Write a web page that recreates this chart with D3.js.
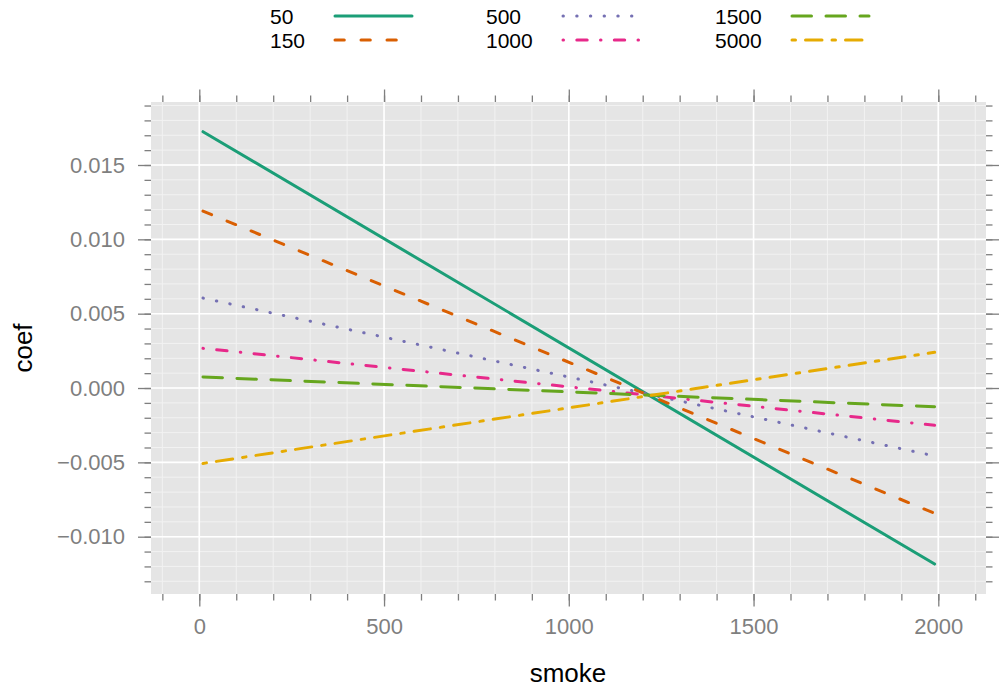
<!DOCTYPE html>
<html>
<head>
<meta charset="utf-8">
<script src="https://cdn.jsdelivr.net/npm/d3@7"></script>
<style>
  body { margin: 0; background: #fff; }
  svg { display: block; font-family: "Liberation Sans", Arial, sans-serif; }
</style>
</head>
<body>
<div id="chart"></div>
<script>
// data: each series is a straight line over smoke
var smokeRange = [10, 1990];
var seriesNames = ["50", "150", "500", "1000", "1500", "5000"];
var coefAtStart = [0.01724, 0.01190, 0.00605, 0.00267, 0.00074, -0.00507];
var coefAtEnd = [-0.01184, -0.00843, -0.00457, -0.00251, -0.00126, 0.00240];
var seriesColors = ["#1B9E77", "#D95F02", "#7570B3", "#E7298A", "#66A61E", "#E6AB02"];
var seriesDash = ["none", "9.3,16.7", "0.4,13.3", "0.5,13.3,10.4,13.3", "19.5,14.5", "3.5,10,16.5,10"];
var xTicks = [0, 500, 1000, 1500, 2000];
var yTicks = [-0.010, -0.005, 0.000, 0.005, 0.010, 0.015];

function init() {
    var w = 999, h = 687;
    var panel = { left: 151, right: 986, top: 102, bottom: 594 };

    var svg = d3.select("#chart").append("svg")
        .attr("width", w)
        .attr("height", h);

    // scales
    var x = d3.scaleLinear().domain([0, 2000]).range([199.3, 938.3]);
    var y = d3.scaleLinear().domain([-0.010, 0.015]).range([536.7, 165.0]);

    var xMinor = d3.range(-100, 2101, 100);
    var yMinor = d3.range(-13, 20).map(function(d) { return d / 1000; });

    // panel background
    svg.append("rect")
        .attr("x", panel.left).attr("y", panel.top)
        .attr("width", panel.right - panel.left)
        .attr("height", panel.bottom - panel.top)
        .attr("fill", "#E5E5E5");

    // grid lines, minor then major
    var grid = svg.append("g");
    grid.selectAll("line.xmin").data(xMinor).enter().append("line")
        .attr("x1", x).attr("x2", x)
        .attr("y1", panel.top).attr("y2", panel.bottom)
        .attr("stroke", "#F2F2F2").attr("stroke-width", 1);
    grid.selectAll("line.ymin").data(yMinor).enter().append("line")
        .attr("y1", y).attr("y2", y)
        .attr("x1", panel.left).attr("x2", panel.right)
        .attr("stroke", "#F2F2F2").attr("stroke-width", 1);
    grid.selectAll("line.xmaj").data(xTicks).enter().append("line")
        .attr("x1", x).attr("x2", x)
        .attr("y1", panel.top).attr("y2", panel.bottom)
        .attr("stroke", "#fff").attr("stroke-width", 1.6);
    grid.selectAll("line.ymaj").data(yTicks).enter().append("line")
        .attr("y1", y).attr("y2", y)
        .attr("x1", panel.left).attr("x2", panel.right)
        .attr("stroke", "#fff").attr("stroke-width", 1.6);

    // axes on all four sides (major ticks with labels on bottom/left)
    var fmtY = d3.format(".3f");
    var tickFont = "22px";

    function styleAxis(g) {
        g.select(".domain").remove();
        g.selectAll(".tick line").attr("stroke", "#7F7F7F").attr("stroke-width", 1.3);
        g.selectAll(".tick text").attr("fill", "#7F7F7F").style("font-size", tickFont)
            .style("font-family", "Liberation Sans, Arial, sans-serif");
    }

    svg.append("g").attr("transform", "translate(0," + panel.bottom + ")")
        .call(d3.axisBottom(x).tickValues(xMinor).tickSize(6.5).tickFormat(""))
        .call(styleAxis);
    svg.append("g").attr("transform", "translate(0," + panel.bottom + ")")
        .call(d3.axisBottom(x).tickValues(xTicks).tickSize(12.5).tickPadding(12).tickFormat(d3.format("d")))
        .call(styleAxis);
    svg.append("g").attr("transform", "translate(0," + panel.top + ")")
        .call(d3.axisTop(x).tickValues(xMinor).tickSize(6.5).tickFormat(""))
        .call(styleAxis);
    svg.append("g").attr("transform", "translate(0," + panel.top + ")")
        .call(d3.axisTop(x).tickValues(xTicks).tickSize(12.5).tickFormat(""))
        .call(styleAxis);

    svg.append("g").attr("transform", "translate(" + panel.left + ",0)")
        .call(d3.axisLeft(y).tickValues(yMinor).tickSize(6.5).tickFormat(""))
        .call(styleAxis);
    svg.append("g").attr("transform", "translate(" + panel.left + ",0)")
        .call(d3.axisLeft(y).tickValues(yTicks).tickSize(13).tickPadding(13).tickFormat(fmtY))
        .call(styleAxis);
    svg.append("g").attr("transform", "translate(" + panel.right + ",0)")
        .call(d3.axisRight(y).tickValues(yMinor).tickSize(6.5).tickFormat(""))
        .call(styleAxis);
    svg.append("g").attr("transform", "translate(" + panel.right + ",0)")
        .call(d3.axisRight(y).tickValues(yTicks).tickSize(13).tickFormat(""))
        .call(styleAxis);

    // series lines
    var line = d3.line()
        .x(function(d) { return x(d[0]); })
        .y(function(d) { return y(d[1]); });

    var lines = seriesNames.map(function(name, i) {
        return [[smokeRange[0], coefAtStart[i]], [smokeRange[1], coefAtEnd[i]]];
    });

    svg.append("g").selectAll("path").data(lines).enter().append("path")
        .attr("d", line)
        .attr("fill", "none")
        .attr("stroke", function(d, i) { return seriesColors[i]; })
        .attr("stroke-width", 3)
        .attr("stroke-linecap", "round")
        .attr("stroke-dasharray", function(d, i) { return seriesDash[i]; });

    // legend: 3 columns x 2 rows
    var textX = [270, 486, 715];
    var lineX = [335, 563, 792];
    var rowY = [16, 40];
    var legend = svg.append("g").selectAll("g").data(seriesNames).enter().append("g");
    legend.append("text")
        .attr("x", function(d, i) { return textX[Math.floor(i / 2)]; })
        .attr("y", function(d, i) { return rowY[i % 2] + 8; })
        .style("font-size", "21px")
        .attr("fill", "#000")
        .text(function(d) { return d; });
    legend.append("line")
        .attr("x1", function(d, i) { return lineX[Math.floor(i / 2)]; })
        .attr("x2", function(d, i) { return lineX[Math.floor(i / 2)] + 77; })
        .attr("y1", function(d, i) { return rowY[i % 2]; })
        .attr("y2", function(d, i) { return rowY[i % 2]; })
        .attr("stroke", function(d, i) { return seriesColors[i]; })
        .attr("stroke-width", 3)
        .attr("stroke-linecap", "round")
        .attr("stroke-dasharray", function(d, i) { return seriesDash[i]; });

    // axis titles
    svg.append("text")
        .attr("x", 568).attr("y", 682)
        .attr("text-anchor", "middle")
        .style("font-size", "26px")
        .text("smoke");
    svg.append("text")
        .attr("transform", "translate(32,348) rotate(-90)")
        .attr("text-anchor", "middle")
        .style("font-size", "26px")
        .text("coef");
}

window.onload = init;
</script>
</body>
</html>
